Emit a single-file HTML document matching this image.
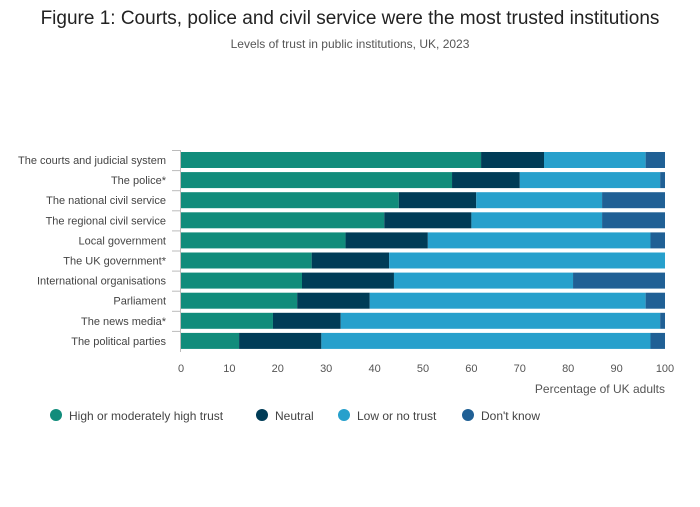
<!DOCTYPE html>
<html><head><meta charset="utf-8"><style>
body{margin:0;background:#fff;font-family:"Liberation Sans",sans-serif;}
svg text{font-family:"Liberation Sans",sans-serif;}
</style></head><body>
<svg width="700" height="502" viewBox="0 0 700 502" id="chart">
<text x="350" y="24" text-anchor="middle" font-size="19" fill="#222">Figure 1: Courts, police and civil service were the most trusted institutions</text>
<text x="350" y="48" text-anchor="middle" font-size="12" fill="#555">Levels of trust in public institutions, UK, 2023</text>
<g id="plot"></g>
<text x="665" y="393" text-anchor="end" font-size="12" fill="#555">Percentage of UK adults</text>
<g id="legend"></g>
</svg>
<script>
const categories=["The courts and judicial system","The police*","The national civil service","The regional civil service","Local government","The UK government*","International organisations","Parliament","The news media*","The political parties"];
const highTrust=[62,56,45,42,34,27,25,24,19,12];
const neutral=[13,14,16,18,17,16,19,15,14,17];
const lowTrust=[21,29,26,27,46,57,37,57,66,68];
const dontKnow=[4,1,13,13,3,0,19,4,1,3];
const seriesNames=["High or moderately high trust","Neutral","Low or no trust","Don't know"];
const ticks=[0,10,20,30,40,50,60,70,80,90,100];
const colors=["#118c7b","#003c57","#27a0cc","#206095"];
const NS="http://www.w3.org/2000/svg";
const x0=181,x1=665,yTop=150,rowH=20.1,barH=16;
const xs=v=>x0+(x1-x0)*v/100;
const ys=i=>yTop+i*rowH+2;
const plot=document.getElementById('plot');
function mk(t,a){const e=document.createElementNS(NS,t);for(const k in a)e.setAttribute(k,a[k]);return e;}
const series=[highTrust,neutral,lowTrust,dontKnow];
const ax=mk('line',{x1:180.5,x2:180.5,y1:yTop,y2:yTop+rowH*categories.length+1,stroke:'#bbb'});


plot.appendChild(ax);
categories.forEach((c,i)=>{
  let cum=0;
  series.forEach((s,j)=>{
    const r=mk('rect',{x:xs(cum),y:ys(i),width:Math.max(0,xs(cum+s[i])-xs(cum)),height:barH,fill:colors[j]});
    
    
    plot.appendChild(r);cum+=s[i];
  });
  const t=mk('text',{x:166,y:ys(i)+barH/2+4,'text-anchor':'end','font-size':11,fill:'#444'});
  t.textContent=c;
  
  
  plot.appendChild(t);
  const tk=mk('line',{x1:172,x2:180,y1:yTop+i*rowH+0.5,y2:yTop+i*rowH+0.5,stroke:'#bbb'});
  
  
  plot.appendChild(tk);
});
ticks.forEach(v=>{
  const t=mk('text',{x:xs(v),y:372,'text-anchor':'middle','font-size':11,fill:'#555'});
  t.textContent=v;
  
  
  plot.appendChild(t);
});
const lg=document.getElementById('legend');
const lx=[56,262,344,468];
seriesNames.forEach((n,j)=>{
  const c=mk('circle',{cx:lx[j],cy:415,r:6,fill:colors[j]});
  
  
  lg.appendChild(c);
  const t=mk('text',{x:lx[j]+13,y:420,'font-size':12,fill:'#444'});
  t.textContent=n;
  
  
  lg.appendChild(t);
});
</script>
</body></html>
